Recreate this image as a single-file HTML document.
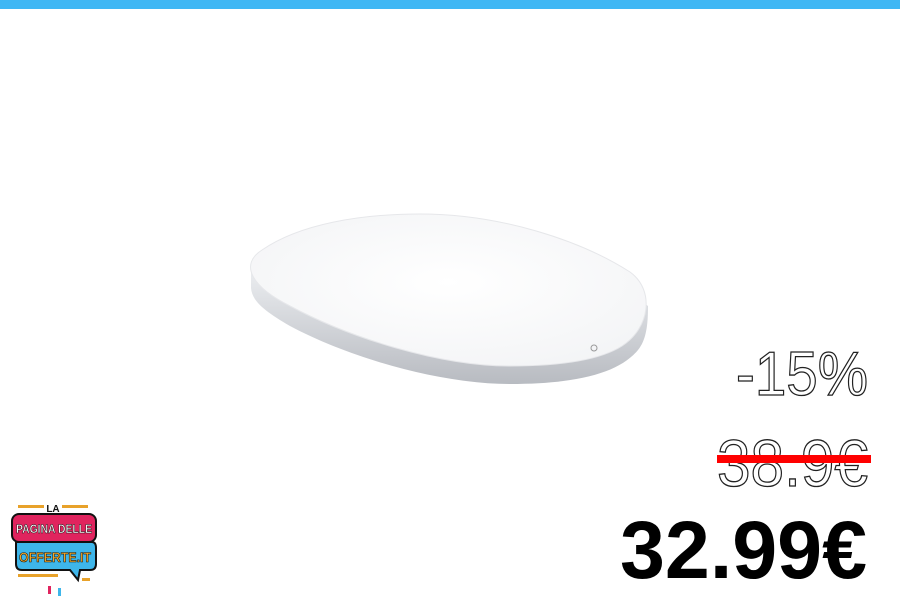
<!DOCTYPE html>
<html><head><meta charset="utf-8"><style>
html,body{margin:0;padding:0;background:#fff;width:900px;height:600px;overflow:hidden}
</style></head><body>
<svg width="900" height="600" viewBox="0 0 900 600" xmlns="http://www.w3.org/2000/svg">
<defs>
<linearGradient id="side" x1="0" y1="0" x2="0" y2="1">
<stop offset="0" stop-color="#eceef1"/><stop offset="1" stop-color="#b8bbc1"/>
</linearGradient>
<radialGradient id="top" cx="0.5" cy="0.45" r="0.7">
<stop offset="0" stop-color="#ffffff"/><stop offset="1" stop-color="#f2f3f5"/>
</radialGradient>
</defs>
<rect x="0" y="0" width="900" height="9" fill="#3fb7f4"/>
<g>
<path d="M251,268 L251,288 C252,300 262,310 290,326 C350,358 440,384 510,384 C580,384 620,372 638,350 C646,340 648,326 648,306 L640,300 Z" fill="url(#side)"/>
<path d="M262,250 C300,224 360,214 420,214 C500,214 580,240 630,272 C655,290 650,328 622,346 C600,360 560,366 510,366 C440,366 350,338 290,306 C250,286 240,264 262,250 Z" fill="url(#top)" stroke="#e6e7ea" stroke-width="1"/>
<circle cx="594" cy="348" r="3" fill="none" stroke="#999" stroke-width="1"/>
</g>
<text x="868" y="395" text-anchor="end" textLength="132" lengthAdjust="spacingAndGlyphs" font-family="Liberation Sans, sans-serif" font-size="62" fill="#fff" stroke="#222" stroke-width="1.3">-15%</text>
<text x="868" y="486" text-anchor="end" textLength="151" lengthAdjust="spacingAndGlyphs" font-family="Liberation Sans, sans-serif" font-size="66" fill="#fff" stroke="#222" stroke-width="1.3">38.9€</text>
<rect x="717" y="455" width="154" height="8" fill="#ff0000"/>
<text x="867" y="578" text-anchor="end" textLength="247" lengthAdjust="spacingAndGlyphs" font-family="Liberation Sans, sans-serif" font-weight="bold" font-size="82" fill="#000">32.99€</text>
<g>
<rect x="18" y="505" width="26" height="3" fill="#e8a22a"/>
<rect x="62" y="505" width="26" height="3" fill="#e8a22a"/>
<text x="53" y="512" text-anchor="middle" font-family="Liberation Sans, sans-serif" font-weight="bold" font-size="10" fill="#111">LA</text>
<rect x="12" y="514" width="84" height="28" rx="7" fill="#e0245e" stroke="#111" stroke-width="2"/>
<text x="54" y="533" text-anchor="middle" textLength="76" lengthAdjust="spacingAndGlyphs" font-family="Liberation Sans, sans-serif" font-weight="bold" font-size="12" fill="#fff" stroke="#111" stroke-width="0.5">PAGINA DELLE</text>
<path d="M16,542 H92 Q96,542 96,548 V564 Q96,570 90,570 H80 L78,580 L70,570 H22 Q16,570 16,564 Z" fill="#3eb6ea" stroke="#111" stroke-width="2"/>
<text x="55" y="562" text-anchor="middle" textLength="72" lengthAdjust="spacingAndGlyphs" font-family="Liberation Sans, sans-serif" font-weight="bold" font-size="14" fill="#f5a623" stroke="#111" stroke-width="0.6">OFFERTE.IT</text>
<rect x="18" y="574" width="40" height="3" fill="#e8a22a"/>
<rect x="48" y="586" width="3" height="8" fill="#e0245e"/>
<rect x="58" y="588" width="3" height="8" fill="#3eb6ea"/>
<rect x="82" y="578" width="8" height="3" fill="#e8a22a"/>
</g>
</svg>
</body></html>
